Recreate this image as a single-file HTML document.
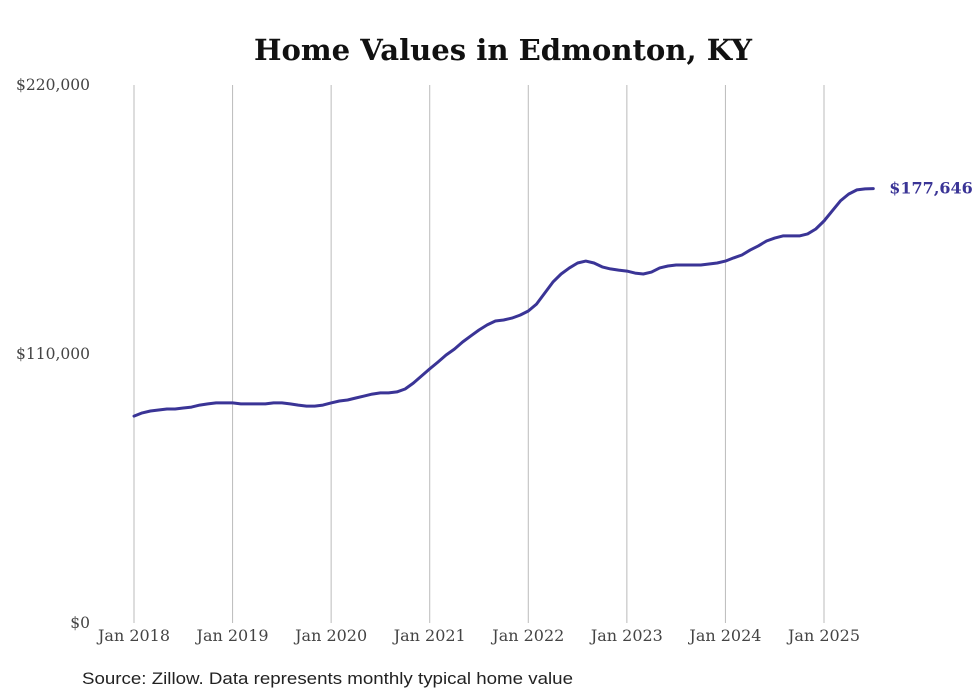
<!DOCTYPE html>
<html><head><meta charset="utf-8"><style>
html,body{margin:0;padding:0;background:#fff;}
svg{display:block;font-family:"DejaVu Serif","Liberation Serif",serif;}
</style></head><body>
<svg id="chart" width="980" height="699" viewBox="0 0 980 699">
<text x="503" y="60" text-anchor="middle" font-size="29" font-weight="bold" fill="#111" textLength="498" lengthAdjust="spacingAndGlyphs">Home Values in Edmonton, KY</text>
<g id="grid"></g><g id="yaxis"></g><g id="xaxis"></g><g id="series"></g>
<text x="82" y="684" font-size="17" fill="#222" font-family="Liberation Sans, sans-serif" textLength="491" lengthAdjust="spacingAndGlyphs">Source: Zillow. Data represents monthly typical home value</text>
</svg>
<script>
const xTickLabels=["Jan 2018","Jan 2019","Jan 2020","Jan 2021","Jan 2022","Jan 2023","Jan 2024","Jan 2025"];
const yTicks=[0,110000,220000];
const yTickLabels=["$0","$110,000","$220,000"];
const startYear=2018;
const valuesK=[84.6,85.9,86.7,87.1,87.5,87.5,87.9,88.3,89.1,89.6,90.0,90.0,
90.0,89.6,89.6,89.6,89.6,90.0,90.0,89.6,89.1,88.7,88.7,89.1,
90.0,90.8,91.2,92.0,92.8,93.6,94.1,94.1,94.5,95.7,98.1,101.0,
103.9,106.7,109.6,112.0,114.9,117.4,119.8,121.9,123.5,123.9,124.7,125.9,
127.6,130.4,134.9,139.4,142.7,145.2,147.2,148.0,147.2,145.6,144.8,144.3,
143.9,143.1,142.7,143.5,145.2,146.0,146.4,146.4,146.4,146.4,146.8,147.2,
148.0,149.3,150.5,152.5,154.2,156.2,157.4,158.3,158.3,158.3,159.1,161.1,
164.4,168.5,172.6,175.4,177.1,177.5,177.646];
const lastLabel="$177,646";
const NS="http://www.w3.org/2000/svg";
const x0=134,pxPerMonth=(824-134)/84,yTop=85,yBot=623,yMax=220000;
const xs=i=>x0+i*pxPerMonth;
const ys=v=>yBot-(v/yMax)*(yBot-yTop);
function mk(tag,attrs,parent){const e=document.createElementNS(NS,tag);for(const k in attrs)e.setAttribute(k,attrs[k]);parent.appendChild(e);return e;}
const grid=document.getElementById('grid'),xa=document.getElementById('xaxis'),ya=document.getElementById('yaxis'),ser=document.getElementById('series');
xTickLabels.forEach((lab,i)=>{
 const x=xs(i*12);
 const l=mk('line',{x1:x,x2:x,y1:yTop,y2:yBot,stroke:'#bbb','stroke-width':1},grid);
 
 
 const t=mk('text',{x:x,y:641,'text-anchor':'middle','font-size':15.5,fill:'#444',textLength:72,lengthAdjust:'spacingAndGlyphs'},xa);
 t.textContent=lab;
 
 
});
yTicks.forEach((v,i)=>{
 const t=mk('text',{x:90,y:ys(v)+5,'text-anchor':'end','font-size':15.5,fill:'#444'},ya);
 t.textContent=yTickLabels[i];
 
 
});
let d='';
valuesK.forEach((v,i)=>{d+=(i?'L':'M')+xs(i).toFixed(1)+','+ys(v*1000).toFixed(1);});
const p=mk('path',{d:d,fill:'none',stroke:'#3a3496','stroke-width':3,'stroke-linejoin':'round','stroke-linecap':'round'},ser);


const li=valuesK.length-1;
const lt=mk('text',{x:xs(li)+16,y:ys(valuesK[li]*1000)+5,'font-size':16,'font-weight':'bold',fill:'#3a3496'},ser);
lt.textContent=lastLabel;


</script>
</body></html>
